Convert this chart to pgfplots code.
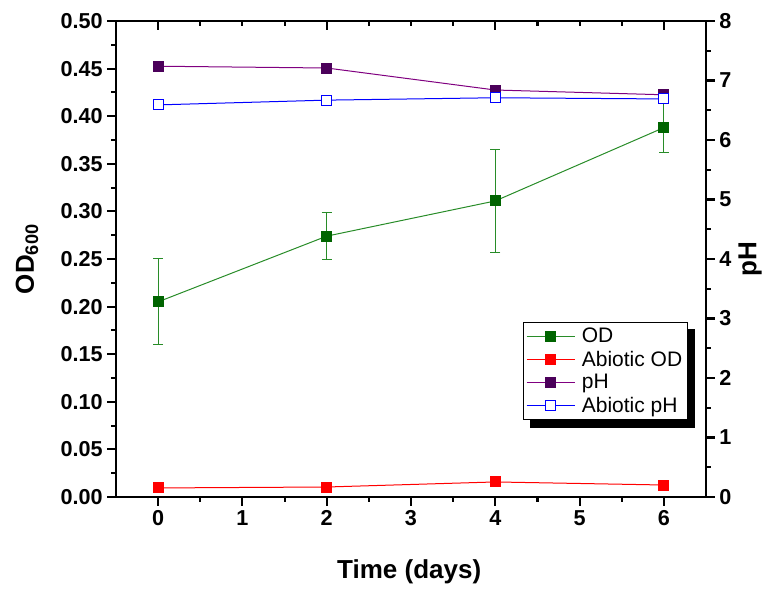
\documentclass[border=0pt]{standalone}
\usepackage{pgfplots}
\pgfplotsset{compat=1.18}
\usepackage{fontspec}
\setmainfont{Liberation Sans}
\usetikzlibrary{backgrounds}
\definecolor{odmark}{RGB}{0,100,0}
\definecolor{odline}{RGB}{40,140,40}
\definecolor{phmark}{RGB}{75,0,90}
\definecolor{phline}{RGB}{128,0,128}
\definecolor{abred}{RGB}{255,0,0}
\definecolor{abblue}{RGB}{0,0,255}
\pgfplotsset{
  common/.style={
    scale only axis, width=442.5pt, height=357pt,
    xmin=-0.5, xmax=6.5,
    /pgf/number format/assume math mode=true,
    tick label style={font=\fontsize{16.2}{18}\selectfont\bfseries},
    label style={font=\fontsize{19.5}{22}\selectfont\bfseries},
    axis line style={line width=1.8pt},
    every tick/.style={line width=1.6pt, black},
    major tick length=6.5pt, minor tick length=3.5pt,
  },
  legend image code/.code={\draw[mark repeat=2,mark phase=2,#1] plot coordinates {(0pt,0pt)(18pt,0pt)(36pt,0pt)};},
}
\begin{document}
\begin{tikzpicture}
\begin{axis}[common, name=ax,
  ymin=0, ymax=0.5,
  xtick={0,1,2,3,4,5,6}, minor x tick num=1,
  ytick={0,0.05,...,0.501}, minor y tick num=1,
  xtick pos=bottom, ytick pos=left, tick align=outside,
  yticklabel style={/pgf/number format/.cd, fixed, fixed zerofill, precision=2},
  xlabel={Time (days)}, ylabel={OD\textsubscript{600}},
  xlabel style={at={(axis description cs:0.497,-0.1576)}, anchor=center},
  ylabel style={at={(axis description cs:-0.1508,0.5)}, anchor=center},
]
\addplot[color=odline, line width=0.75pt, mark=square*, mark size=3.75pt,
  mark options={fill=odmark, draw=odmark, solid},
  error bars/.cd, y dir=both, y explicit,
  error bar style={line width=0.75pt, color=odline},
  error mark options={rotate=90, mark size=3.75pt, line width=0.75pt, color=odline}]
  coordinates {(0,0.205) +- (0,0.045) (2,0.274) +- (0,0.025) (4,0.311) +- (0,0.054) (6,0.388) +- (0,0.026)};
\addplot[color=abred, line width=0.75pt, mark=square*, mark size=3.75pt,
  mark options={fill=abred, draw=abred}]
  coordinates {(0,0.0095) (2,0.0105) (4,0.0158) (6,0.0126)};
\end{axis}
\begin{axis}[common,
  ymin=0, ymax=0.5, xtick={0,2,4,6}, minor x tick num=3,
  xtick pos=top, tick align=inside, xticklabels={}, ytick=\empty,
  axis line style={draw=none}]
\addplot[draw=none] coordinates {(0,0)};
\end{axis}
\begin{axis}[common,
  ymin=0, ymax=8, ytick={0,1,...,8}, minor y tick num=1,
  ytick pos=right, tick align=outside, xtick=\empty,
  axis x line=none, axis y line*=right,
  ylabel={pH},
  ylabel style={at={(axis description cs:1.0746,0.5)}, anchor=center},
  legend style={name=leg, at={(0.690,0.3676)}, anchor=north west, draw=black, line width=0.6pt,
    font=\fontsize{15.75}{17}\selectfont, row sep=0.8pt, column sep=3pt, inner sep=2pt},
  legend cell align=left,
]
\addlegendimage{color=odline, line width=0.75pt, mark=square*, mark size=3.75pt, mark options={fill=odmark, draw=odmark}}
\addlegendentry{OD}
\addlegendimage{color=abred, line width=0.75pt, mark=square*, mark size=3.75pt, mark options={fill=abred, draw=abred}}
\addlegendentry{Abiotic OD}
\addplot[color=phline, line width=0.75pt, mark=square*, mark size=3.75pt,
  mark options={fill=phmark, draw=phmark}]
  coordinates {(0,7.24) (2,7.21) (4,6.84) (6,6.76)};
\addlegendentry{pH}
\addplot[color=abblue, line width=0.75pt, mark=square*, mark size=3.75pt,
  mark options={fill=white, draw=abblue}]
  coordinates {(0,6.59) (2,6.67) (4,6.71) (6,6.69)};
\addlegendentry{Abiotic pH}
\end{axis}
\begin{scope}[on background layer]
\fill[black] ([xshift=5.5pt,yshift=-5.5pt]leg.south west) rectangle ([xshift=5.5pt,yshift=-5.5pt]leg.north east);
\end{scope}
\pgfresetboundingbox
\path ([xshift=-87pt,yshift=-68.25pt]ax.south west) rectangle ([xshift=45pt,yshift=15.75pt]ax.north east);
\end{tikzpicture}
\end{document}
